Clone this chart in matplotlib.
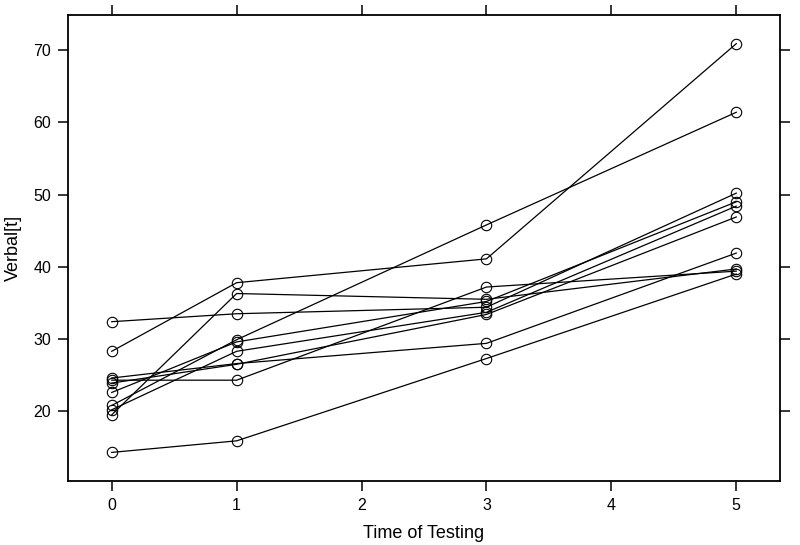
import numpy as np
import matplotlib
matplotlib.use("Agg")
import matplotlib.pyplot as plt

plt.rcParams['font.family'] = ['Liberation Sans', 'DejaVu Sans']

# testing occasions
times = [0, 1, 3, 5]

# verbal scores, one list per child
child1 = [32.4, 33.5, 34.4, 50.2]
child2 = [28.3, 37.8, 41.1, 70.9]
child3 = [14.3, 15.9, 27.3, 39.0]
child4 = [20.8, 29.9, 45.8, 61.4]
child5 = [19.5, 36.3, 35.5, 39.7]
child6 = [24.3, 24.3, 37.2, 39.4]
child7 = [24.6, 26.6, 29.4, 41.9]
child8 = [22.6, 29.6, 35.2, 49.0]
child9 = [20.2, 28.3, 33.7, 48.4]
child10 = [23.9, 26.5, 33.4, 46.9]

children = [child1, child2, child3, child4, child5,
            child6, child7, child8, child9, child10]

xticks = [0, 1, 2, 3, 4, 5]
yticks = [20, 30, 40, 50, 60, 70]

fig = plt.figure(figsize=(8, 5.45), dpi=100)
ax = fig.add_axes([0.085, 0.1174, 0.89, 0.855])

for c in children:
    ax.plot(times, c, color='black', linewidth=0.9, marker='o',
            markersize=7.5, markerfacecolor='none', markeredgecolor='black',
            markeredgewidth=0.8)

# lattice style: 7% padding around data range
allv = np.concatenate([np.array(c) for c in children])
ypad = 0.07 * (allv.max() - allv.min())
ax.set_xlim(-0.35, 5.35)
ax.set_ylim(allv.min() - ypad, allv.max() + ypad)

ax.set_xticks(xticks)
ax.set_yticks(yticks)
ax.tick_params(direction='out', length=7, width=1.1, labelsize=11.5,
               top=True, right=True, labeltop=False, labelright=False,
               pad=5, colors='black')
for s in ax.spines.values():
    s.set_linewidth(1.3)

ax.set_xlabel("Time of Testing", fontsize=13, labelpad=9)
ax.set_ylabel("Verbal[t]", fontsize=13, labelpad=8)

fig.savefig("out.png", dpi=100)
